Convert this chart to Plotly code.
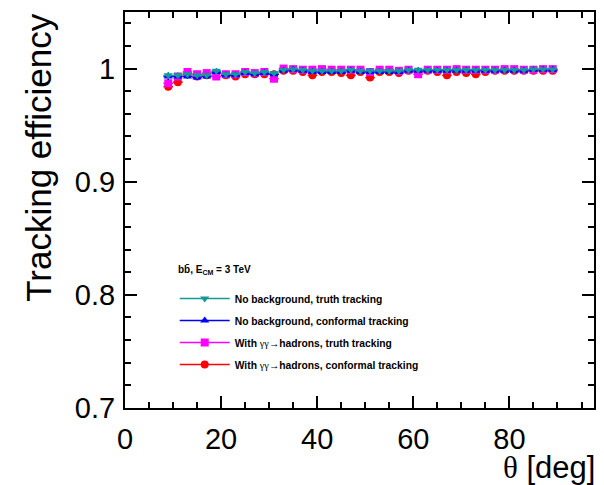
import plotly.graph_objects as go

theta = [9, 11, 13, 15, 17, 19, 21, 23, 25, 27, 29, 31, 33, 35, 37, 39, 41, 43, 45, 47,
         49, 51, 53, 55, 57, 59, 61, 63, 65, 67, 69, 71, 73, 75, 77, 79, 81, 83, 85, 87, 89]
bin_half_width = [1] * len(theta)

eff_nobg_truth = [0.994, 0.994, 0.995, 0.994, 0.994, 0.998, 0.995, 0.995, 0.997, 0.996,
                  0.997, 0.996, 0.999, 0.9995, 0.999, 0.998, 0.998, 0.998, 0.998, 0.999,
                  0.998, 0.998, 0.998, 0.998, 0.998, 0.999, 0.999, 0.999, 0.999, 0.999,
                  0.999, 0.999, 0.999, 0.999, 0.999, 0.999, 0.999, 0.999, 0.9995, 0.9995, 0.9995]
eff_nobg_conf = [0.993, 0.993, 0.993, 0.992, 0.993, 0.997, 0.994, 0.994, 0.996, 0.995,
                 0.996, 0.995, 0.998, 0.999, 0.998, 0.997, 0.997, 0.997, 0.997, 0.998,
                 0.997, 0.997, 0.997, 0.997, 0.997, 0.998, 0.998, 0.998, 0.998, 0.998,
                 0.998, 0.998, 0.998, 0.998, 0.998, 0.998, 0.998, 0.998, 0.999, 0.999, 0.999]
eff_bg_truth = [0.987, 0.993, 0.997, 0.995, 0.996, 0.993, 0.995, 0.995, 0.997, 0.996,
                0.997, 0.991, 1.000, 0.9995, 0.999, 0.999, 0.9995, 0.999, 0.999, 0.999,
                0.999, 0.997, 0.999, 0.999, 0.998, 0.999, 0.995, 0.999, 0.999, 0.999,
                0.9995, 0.999, 0.999, 0.999, 0.999, 0.9995, 0.9995, 0.999, 0.999, 0.9995, 0.9995]
eff_bg_conf = [0.984, 0.988, 0.995, 0.993, 0.994, 0.996, 0.994, 0.993, 0.995, 0.995,
               0.995, 0.995, 0.998, 0.998, 0.997, 0.994, 0.997, 0.997, 0.996, 0.994,
               0.997, 0.992, 0.997, 0.997, 0.996, 0.998, 0.997, 0.998, 0.997, 0.994,
               0.997, 0.996, 0.995, 0.997, 0.998, 0.998, 0.998, 0.998, 0.998, 0.998, 0.998]
eff_err = [0.003, 0.0025, 0.002, 0.002, 0.002, 0.0015, 0.0015, 0.0015, 0.0015, 0.0015,
           0.0015, 0.0015, 0.001, 0.001, 0.001, 0.001, 0.001, 0.001, 0.001, 0.001,
           0.001, 0.001, 0.001, 0.001, 0.001, 0.001, 0.001, 0.001, 0.001, 0.001,
           0.001, 0.001, 0.001, 0.001, 0.001, 0.001, 0.001, 0.001, 0.001, 0.001, 0.001]

GG = "<span style='font-weight:normal;font-family:Liberation Serif'>γγ</span>→"
series = [
    ("No background, truth tracking", eff_nobg_truth, "#129a9a", "triangle-down"),
    ("No background, conformal tracking", eff_nobg_conf, "#0000ff", "triangle-up"),
    ("With " + GG + "hadrons, truth tracking", eff_bg_truth, "#ff00ff", "square"),
    ("With " + GG + "hadrons, conformal tracking", eff_bg_conf, "#ff0000", "circle"),
]

fig = go.Figure()

# data traces (drawn bottom to top: red, magenta, blue, teal)
for name, vals, col, sym in reversed(series):
    fig.add_trace(go.Scatter(
        x=theta, y=vals, mode="markers", showlegend=False,
        marker=dict(symbol=sym, size=8, color=col, line=dict(width=0)),
        error_x=dict(type="data", array=bin_half_width, width=0, color=col, thickness=1.5),
        error_y=dict(type="data", array=eff_err, width=0, color=col, thickness=1.5),
    ))

# legend entries
for i, (name, vals, col, sym) in enumerate(series):
    fig.add_trace(go.Scatter(
        x=[None], y=[None], mode="lines+markers", name=name, legendgroup=f"g{i}",
        line=dict(color=col, width=1.5),
        marker=dict(symbol=sym, size=8, color=col),
    ))

fig.update_layout(
    width=604, height=485,
    margin=dict(l=125, r=8, t=12, b=77),
    paper_bgcolor="white", plot_bgcolor="white",
    font=dict(family="Liberation Sans, Arial, sans-serif", color="black"),
    showlegend=True,
    legend=dict(
        x=0.106, y=0.313, xanchor="left", yanchor="top",
        bgcolor="rgba(0,0,0,0)", borderwidth=0,
        font=dict(size=10.3, family="Liberation Sans, Arial, sans-serif", weight="bold"),
        tracegroupgap=3, itemwidth=50,
    ),
    xaxis=dict(
        range=[0, 97.6], showgrid=False, zeroline=False,
        showline=True, linecolor="black", linewidth=2, mirror="allticks",
        ticks="inside", ticklen=12, tickwidth=1.5, tickcolor="black",
        tickmode="linear", tick0=0, dtick=20,
        minor=dict(ticks="inside", ticklen=6, tickwidth=1.5, tickcolor="black", dtick=5),
        tickfont=dict(size=29), ticklabelstandoff=4,
    ),
    yaxis=dict(
        range=[0.7, 1.05], showgrid=False, zeroline=False,
        showline=True, linecolor="black", linewidth=2, mirror="allticks",
        ticks="inside", ticklen=12, tickwidth=1.5, tickcolor="black",
        tickmode="array", tickvals=[0.7, 0.8, 0.9, 1.0], ticktext=["0.7", "0.8", "0.9", "1"],
        minor=dict(ticks="inside", ticklen=6, tickwidth=1.5, tickcolor="black",
                   tickmode="linear", tick0=0.7, dtick=0.02),
        tickfont=dict(size=29), ticklabelstandoff=2,
    ),
)

fig.add_annotation(
    text="<b>bb\u0304, E<sub>CM</sub> = 3 TeV</b>", xref="paper", yref="paper",
    x=(176 - 125) / 471, y=(408 - 270) / 396, xanchor="left", yanchor="middle",
    showarrow=False, font=dict(size=10),
)
fig.add_annotation(
    text="Tracking efficiency", xref="paper", yref="paper",
    x=-0.186, y=1.0, xanchor="center", yanchor="top", textangle=-90,
    showarrow=False, font=dict(size=35),
)
fig.add_annotation(
    text="<span style='font-family:Liberation Serif'>θ</span> [deg]", xref="paper", yref="paper",
    x=1.005, y=-0.104, xanchor="right", yanchor="top", borderpad=0,
    showarrow=False, font=dict(size=31),
)

fig.write_html("out.html", config={"displayModeBar": False},
               post_script="document.body.style.margin='0px';")
